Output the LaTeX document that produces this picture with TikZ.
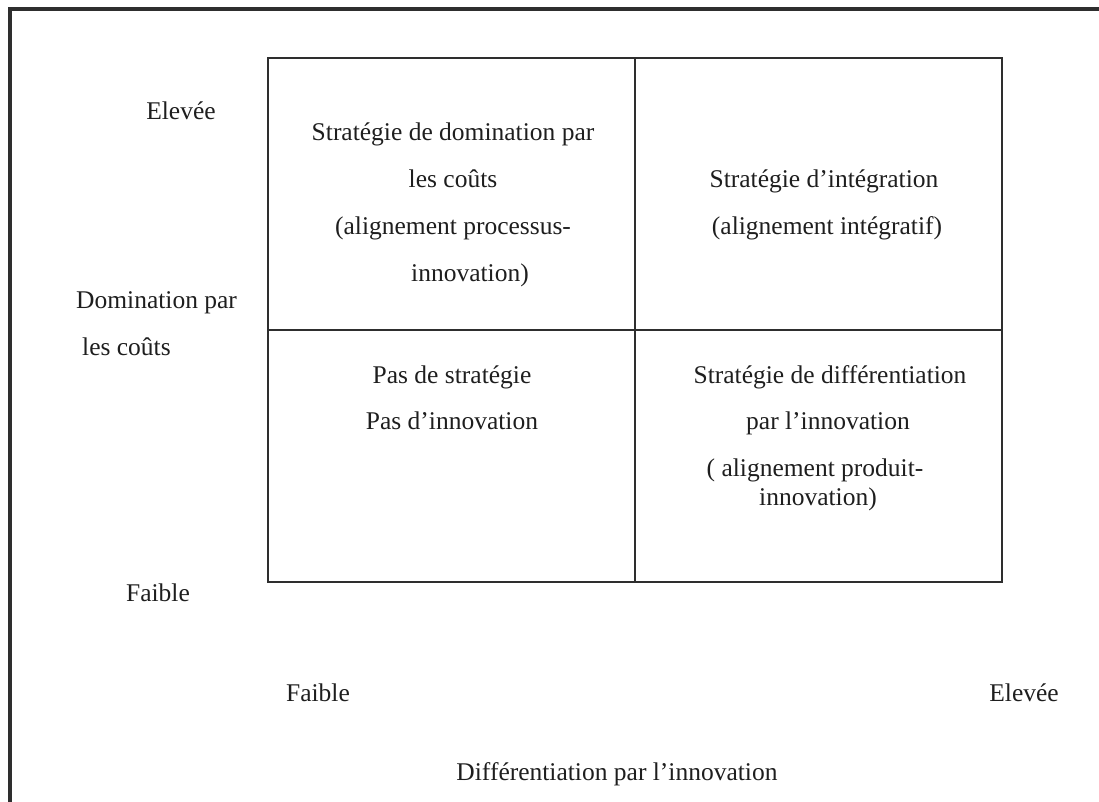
\documentclass[tikz,border=0pt]{standalone}
\usepackage{fontspec}
\setmainfont{Liberation Serif}
\definecolor{ink}{HTML}{1E1E1E}
\definecolor{rule}{HTML}{2E2E2E}
\begin{document}
\begin{tikzpicture}[x=1pt,y=-1pt,
  lbl/.style={inner sep=0pt,anchor=base,text=ink,font=\fontsize{25.5}{30}\selectfont},
  lbll/.style={lbl,anchor=base west},
  grid/.style={draw=rule,line width=1.8pt},
  frame/.style={draw=rule,line width=4pt}]
\useasboundingbox (0,0) rectangle (1099,802);
% outer frame (left and top only)
\coordinate (ftl) at (9.5,9.5);
\coordinate (fbl) at (9.5,802);
\coordinate (ftr) at (1099,9.5);
\draw[frame] (fbl) -- (ftl) -- (ftr);
% matrix
\coordinate (tl) at (268,58);
\coordinate (br) at (1002,582);
\coordinate (mt) at (635,58);
\coordinate (mb) at (635,582);
\coordinate (ml) at (268,330);
\coordinate (mr) at (1002,330);
\draw[grid] (tl) rectangle (br);
\draw[grid] (mt) -- (mb);
\draw[grid] (ml) -- (mr);
% vertical axis labels
\node[lbl] (yhigh) at (181,120) {Elevée};
\node[lbll] (ytitle1) at (76,308) {Domination par};
\node[lbll] (ytitle2) at (82,355) {les coûts};
\node[lbl] (ylow) at (158,601) {Faible};
% top-left cell
\node[lbl] (tl1) at (453,141) {Stratégie de domination par};
\node[lbl] (tl2) at (453,188) {les coûts};
\node[lbl] (tl3) at (453,235) {(alignement processus-};
\node[lbl] (tl4) at (470,281) {innovation)};
% top-right cell
\node[lbl] (tr1) at (824,188) {Stratégie d’intégration};
\node[lbl] (tr2) at (827,235) {(alignement intégratif)};
% bottom-left cell
\node[lbl] (bl1) at (452,383) {Pas de stratégie};
\node[lbl] (bl2) at (452,429) {Pas d’innovation};
% bottom-right cell
\node[lbl] (br1) at (830,383) {Stratégie de différentiation};
\node[lbl] (br2) at (828,429) {par l’innovation};
\node[lbl] (br3) at (815,476) {( alignement produit-};
\node[lbl] (br4) at (818,505) {innovation)};
% horizontal axis labels
\node[lbl] (xlow) at (318,701) {Faible};
\node[lbl] (xhigh) at (1024,701) {Elevée};
\node[lbl] (xtitle) at (617,780) {Différentiation par l’innovation};
\end{tikzpicture}
\end{document}
